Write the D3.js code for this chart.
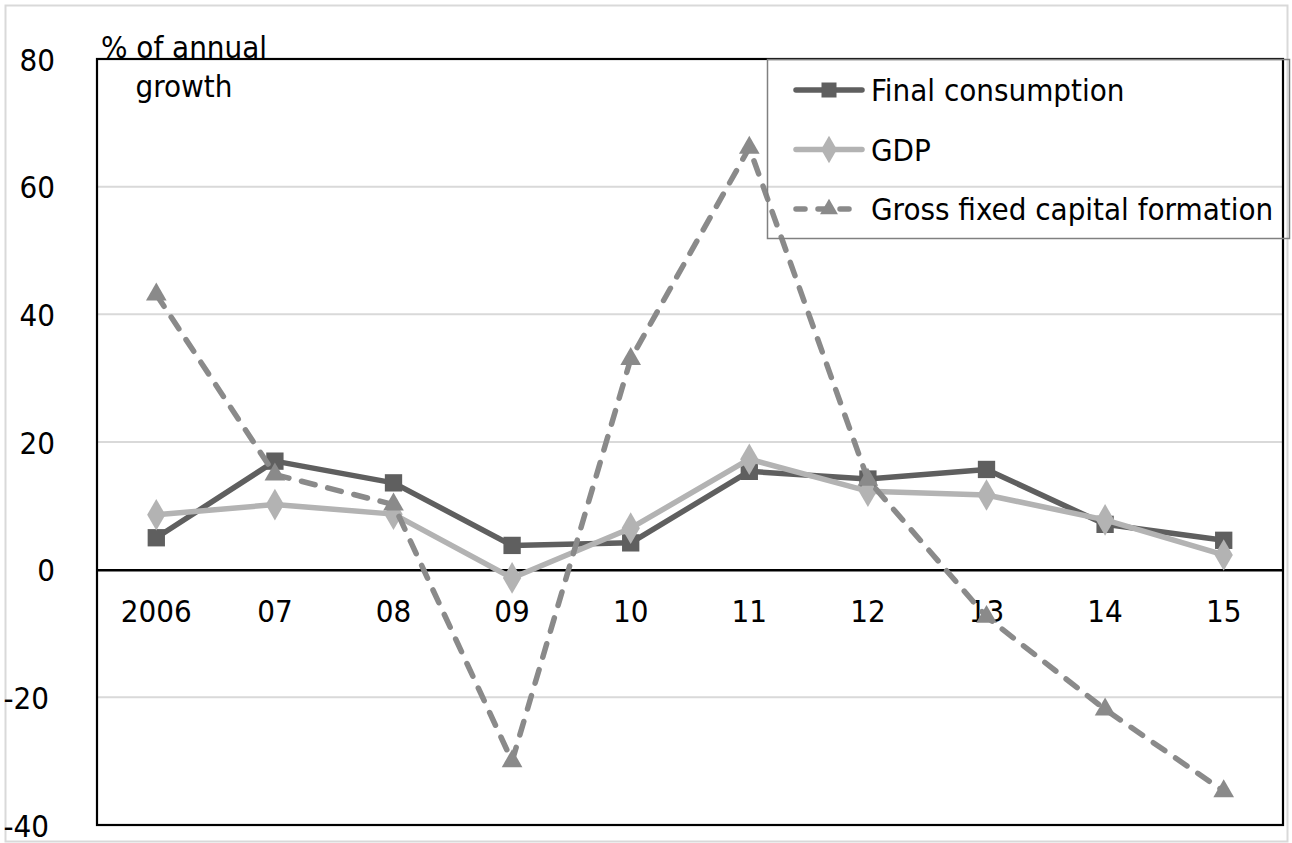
<!DOCTYPE html>
<html>
<head>
<meta charset="utf-8">
<script src="https://cdn.jsdelivr.net/npm/d3@7"></script>
<style>
  html, body { margin: 0; padding: 0; background: #fff; }
  svg { display: block; }
  text { font-family: "DejaVu Sans Condensed", "DejaVu Sans", sans-serif; fill: #000; }
</style>
</head>
<body>
<svg id="chart" width="1292" height="843"></svg>
<script>
// Annual growth rates (%), 2006–2015
const years = ["2006", "07", "08", "09", "10", "11", "12", "13", "14", "15"];
const finalConsumption = [5.0, 17.0, 13.6, 3.8, 4.2, 15.4, 14.2, 15.7, 7.1, 4.6];
const gdp = [8.6, 10.2, 8.7, -1.3, 6.5, 17.3, 12.3, 11.7, 7.8, 2.3];
const grossFixedCapital = [43.1, 14.9, 10.2, -30.0, 33.0, 66.1, 14.1, -7.4, -21.9, -34.7];
const yTicks = [-40, -20, 0, 20, 40, 60, 80];

const seriesNames = ["Final consumption", "GDP", "Gross fixed capital formation"];

const svg = d3.select("#chart");
const plot = { left: 97, right: 1283, top: 59, bottom: 825 };
const fontSize = 31;
const fontFamily = "\"DejaVu Sans Condensed\", \"DejaVu Sans\", sans-serif";

const x = d3.scaleBand().domain(years).range([plot.left, plot.right]);
const y = d3.scaleLinear().domain([-40, 80]).range([plot.bottom, plot.top]);
const cx = d => x(d) + x.bandwidth() / 2;

// outer chart frame
svg.append("rect")
  .attr("x", 5.5).attr("y", 5.5).attr("width", 1282).attr("height", 836)
  .attr("fill", "#fff").attr("stroke", "#d9d9d9").attr("stroke-width", 2);

// horizontal gridlines
svg.append("g")
  .selectAll("line")
  .data(yTicks.filter(t => t !== -40 && t !== 80 && t !== 0))
  .join("line")
  .attr("x1", plot.left).attr("x2", plot.right)
  .attr("y1", d => y(d)).attr("y2", d => y(d))
  .attr("stroke", "#d9d9d9").attr("stroke-width", 2);

// y axis labels (right aligned, negatives sit slightly further left)
const yAxis = d3.axisLeft(y).tickValues(yTicks).tickSize(0).tickFormat(d => String(d));
const yg = svg.append("g").attr("transform", `translate(${plot.left},0)`).call(yAxis);
yg.select(".domain").remove();
yg.selectAll("text")
  .attr("x", d => (d < 0 ? 49 : 55) - plot.left)
  .attr("dy", "0.36em")
  .style("font-size", fontSize + "px")
  .style("font-family", fontFamily)
  .attr("fill", "#000");

// plot frame
svg.append("rect")
  .attr("x", plot.left).attr("y", plot.top)
  .attr("width", plot.right - plot.left).attr("height", plot.bottom - plot.top)
  .attr("fill", "none").attr("stroke", "#000").attr("stroke-width", 2.2);

// zero line with category labels beneath it
const xAxis = d3.axisBottom(x).tickSize(0).tickPadding(0);
const xg = svg.append("g").attr("transform", `translate(0,${y(0)})`).call(xAxis);
xg.select(".domain").attr("stroke", "#000").attr("stroke-width", 2.5);
xg.selectAll("text")
  .attr("y", 52).attr("dy", "0")
  .style("font-size", fontSize + "px")
  .style("font-family", fontFamily)
  .attr("fill", "#000");

// axis title
const title = svg.append("text")
  .attr("text-anchor", "middle")
  .style("font-size", fontSize + "px");
title.append("tspan").attr("x", 184).attr("y", 58).text("% of annual");
title.append("tspan").attr("x", 184).attr("y", 97).text("growth");

// series definitions
const series = [
  { name: seriesNames[0], values: finalConsumption, color: "#5f5f5f", dash: null, symbol: d3.symbolSquare, size: 300 },
  { name: seriesNames[1], values: gdp, color: "#b3b3b3", dash: null, symbol: d3.symbolDiamond, size: 290 },
  { name: seriesNames[2], values: grossFixedCapital, color: "#8a8a8a", dash: "14 13", symbol: d3.symbolTriangle, size: 185 }
];

const line = d3.line().x((d, i) => cx(years[i])).y(d => y(d));

series.forEach(s => {
  const g = svg.append("g");
  g.append("path")
    .datum(s.values)
    .attr("d", line)
    .attr("fill", "none")
    .attr("stroke", s.color)
    .attr("stroke-width", 5.5)
    .attr("stroke-linejoin", "round")
    .attr("stroke-linecap", "round")
    .attr("stroke-dasharray", s.dash);
  g.selectAll("path.mark")
    .data(s.values)
    .join("path")
    .attr("class", "mark")
    .attr("transform", (d, i) => `translate(${cx(years[i])},${y(d)})`)
    .attr("d", d3.symbol(s.symbol, s.size))
    .attr("fill", s.color);
});

// legend
const lg = svg.append("g");
lg.append("rect")
  .attr("x", 767.5).attr("y", 59.5).attr("width", 522).attr("height", 179)
  .attr("fill", "none").attr("stroke", "#808080").attr("stroke-width", 1.5);
series.forEach((s, i) => {
  const ry = 90 + i * 59.5;
  lg.append("line")
    .attr("x1", 796).attr("x2", 862).attr("y1", ry).attr("y2", ry)
    .attr("stroke", s.color).attr("stroke-width", 5.5)
    .attr("stroke-linecap", "round")
    .attr("stroke-dasharray", s.dash ? "9 13" : null);
  lg.append("path")
    .attr("transform", `translate(829,${ry})`)
    .attr("d", d3.symbol(s.symbol, s.size * 0.75))
    .attr("fill", s.color);
  lg.append("text")
    .attr("x", 871).attr("y", ry).attr("dy", "0.36em")
    .style("font-size", fontSize + "px")
    .text(s.name);
});
</script>
</body>
</html>
